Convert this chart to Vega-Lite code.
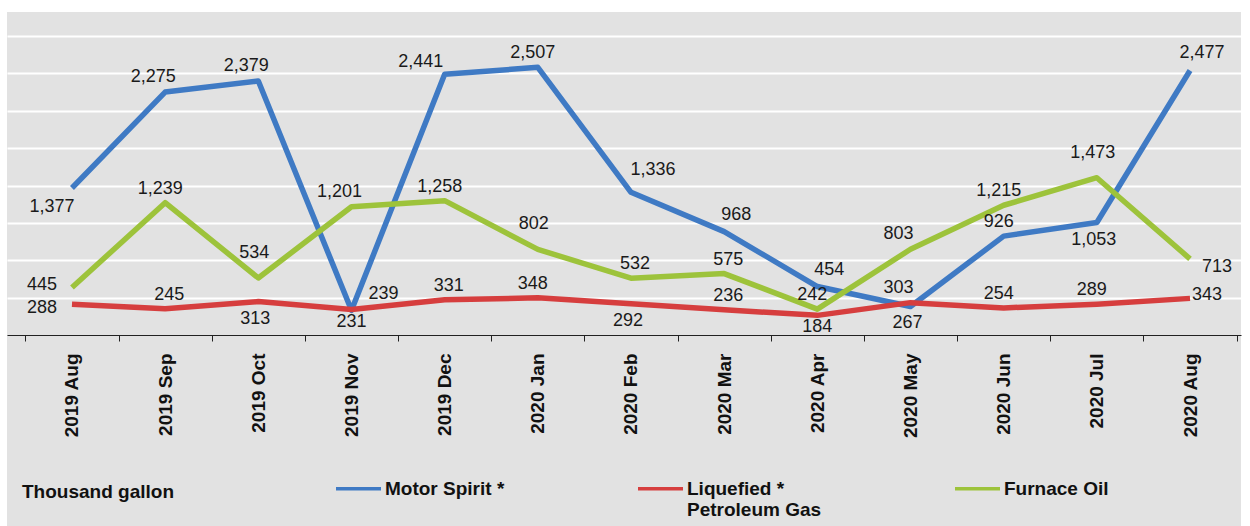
{
  "$schema": "https://vega.github.io/schema/vega-lite/v6.json",
  "autosize": {"type": "none"},
  "padding": {"left": 7, "top": 12, "right": 9, "bottom": 0},
  "width": 1234,
  "height": 514,
  "background": "#ffffff",
  "config": {
    "view": {"fill": "#e2e2e2", "stroke": null},
    "font": "Liberation Sans",
    "legend": {
      "orient": "none",
      "legendX": 15,
      "legendY": 452,
      "direction": "horizontal",
      "padding": 0,
      "titleOrient": "left",
      "titleFont": "Liberation Sans",
      "titleFontSize": 19,
      "titleFontWeight": "bold",
      "titleColor": "#111111",
      "titlePadding": 160,
      "labelFont": "Liberation Sans",
      "labelFontSize": 19,
      "labelFontWeight": "bold",
      "labelColor": "#111111",
      "labelLimit": 300,
      "labelOffset": 2,
      "labelLineHeight": 22,
      "columnPadding": 126,
      "symbolType": "stroke",
      "symbolSize": 2025,
      "symbolStrokeWidth": 3.5
    }
  },
  "data": {
    "values": [
      {"month": "2019 Aug", "series": "Motor Spirit *", "value": 1377},
      {"month": "2019 Sep", "series": "Motor Spirit *", "value": 2275},
      {"month": "2019 Oct", "series": "Motor Spirit *", "value": 2379},
      {"month": "2019 Nov", "series": "Motor Spirit *", "value": 231},
      {"month": "2019 Dec", "series": "Motor Spirit *", "value": 2441},
      {"month": "2020 Jan", "series": "Motor Spirit *", "value": 2507},
      {"month": "2020 Feb", "series": "Motor Spirit *", "value": 1336},
      {"month": "2020 Mar", "series": "Motor Spirit *", "value": 968},
      {"month": "2020 Apr", "series": "Motor Spirit *", "value": 454},
      {"month": "2020 May", "series": "Motor Spirit *", "value": 267},
      {"month": "2020 Jun", "series": "Motor Spirit *", "value": 926},
      {"month": "2020 Jul", "series": "Motor Spirit *", "value": 1053},
      {"month": "2020 Aug", "series": "Motor Spirit *", "value": 2477},
      {"month": "2019 Aug", "series": "Liquefied * Petroleum Gas", "value": 288},
      {"month": "2019 Sep", "series": "Liquefied * Petroleum Gas", "value": 245},
      {"month": "2019 Oct", "series": "Liquefied * Petroleum Gas", "value": 313},
      {"month": "2019 Nov", "series": "Liquefied * Petroleum Gas", "value": 239},
      {"month": "2019 Dec", "series": "Liquefied * Petroleum Gas", "value": 331},
      {"month": "2020 Jan", "series": "Liquefied * Petroleum Gas", "value": 348},
      {"month": "2020 Feb", "series": "Liquefied * Petroleum Gas", "value": 292},
      {"month": "2020 Mar", "series": "Liquefied * Petroleum Gas", "value": 236},
      {"month": "2020 Apr", "series": "Liquefied * Petroleum Gas", "value": 184},
      {"month": "2020 May", "series": "Liquefied * Petroleum Gas", "value": 303},
      {"month": "2020 Jun", "series": "Liquefied * Petroleum Gas", "value": 254},
      {"month": "2020 Jul", "series": "Liquefied * Petroleum Gas", "value": 289},
      {"month": "2020 Aug", "series": "Liquefied * Petroleum Gas", "value": 343},
      {"month": "2019 Aug", "series": "Furnace Oil", "value": 445},
      {"month": "2019 Sep", "series": "Furnace Oil", "value": 1239},
      {"month": "2019 Oct", "series": "Furnace Oil", "value": 534},
      {"month": "2019 Nov", "series": "Furnace Oil", "value": 1201},
      {"month": "2019 Dec", "series": "Furnace Oil", "value": 1258},
      {"month": "2020 Jan", "series": "Furnace Oil", "value": 802},
      {"month": "2020 Feb", "series": "Furnace Oil", "value": 532},
      {"month": "2020 Mar", "series": "Furnace Oil", "value": 575},
      {"month": "2020 Apr", "series": "Furnace Oil", "value": 242},
      {"month": "2020 May", "series": "Furnace Oil", "value": 803},
      {"month": "2020 Jun", "series": "Furnace Oil", "value": 1215},
      {"month": "2020 Jul", "series": "Furnace Oil", "value": 1473},
      {"month": "2020 Aug", "series": "Furnace Oil", "value": 713}
    ]
  },
  "encoding": {
    "x": {
      "field": "month",
      "type": "nominal",
      "bandPosition": 0.5,
      "sort": ["2019 Aug","2019 Sep","2019 Oct","2019 Nov","2019 Dec","2020 Jan","2020 Feb","2020 Mar","2020 Apr","2020 May","2020 Jun","2020 Jul","2020 Aug"],
      "scale": {"type": "band", "paddingInner": 0, "paddingOuter": 0.1223, "align": 0.807},
      "axis": {
        "title": null,
        "offset": -191,
        "labelAngle": 270,
        "labelFont": "Liberation Sans",
        "labelFontSize": 19,
        "labelFontWeight": "bold",
        "labelColor": "#111111",
        "labelPadding": 12,
        "tickBand": "extent",
        "tickSize": 6,
        "tickColor": "#222222",
        "domainColor": "#222222",
        "domainWidth": 1.2,
        "grid": false
      }
    },
    "y": {
      "field": "value",
      "type": "quantitative",
      "scale": {"domain": [-1788.6, 3024.8], "nice": false, "zero": false},
      "axis": {
        "title": null,
        "labels": false,
        "ticks": false,
        "domain": false,
        "grid": true,
        "gridColor": "#ffffff",
        "gridWidth": 2,
        "values": [350, 700, 1050, 1400, 1750, 2100, 2450, 2800]
      }
    }
  },
  "layer": [
    {
      "transform": [{"filter": "datum.series == 'Motor Spirit *'"}],
      "mark": {"type": "line", "strokeWidth": 5.5, "strokeJoin": "round"},
      "encoding": {
        "color": {"field": "series", "type": "nominal", "title": "Thousand gallon",
          "scale": {"domain": ["Motor Spirit *", "Liquefied * Petroleum Gas", "Furnace Oil"], "range": ["#3f7ac4", "#d63e3e", "#9dc33b"]},
          "legend": {
            "labelExpr": "datum.label == 'Liquefied * Petroleum Gas' ? ['Liquefied *', 'Petroleum Gas'] : [datum.label, '']",
            "encoding": {
              "labels": {"update": {"dy": {"value": 11}}},
              "title": {"update": {"dy": {"value": 9}}}
            }
          }}
      }
    },
    {
      "transform": [{"filter": "datum.series == 'Liquefied * Petroleum Gas'"}],
      "mark": {"type": "line", "strokeWidth": 5.5, "strokeJoin": "round"},
      "encoding": {
        "color": {"field": "series", "type": "nominal", "title": "Thousand gallon",
          "scale": {"domain": ["Motor Spirit *", "Liquefied * Petroleum Gas", "Furnace Oil"], "range": ["#3f7ac4", "#d63e3e", "#9dc33b"]}}
      }
    },
    {
      "transform": [{"filter": "datum.series == 'Furnace Oil'"}],
      "mark": {"type": "line", "strokeWidth": 5.5, "strokeJoin": "round"},
      "encoding": {
        "color": {"field": "series", "type": "nominal", "title": "Thousand gallon",
          "scale": {"domain": ["Motor Spirit *", "Liquefied * Petroleum Gas", "Furnace Oil"], "range": ["#3f7ac4", "#d63e3e", "#9dc33b"]}}
      }
    },
    {
      "transform": [{"filter": "indexof(['M:2020 Jan','M:2020 Jun','F:2019 Sep','F:2019 Dec','F:2020 Apr','F:2020 Jun','L:2020 Jan','L:2020 Jun','L:2020 Jul'], slice(datum.series,0,1) + ':' + datum.month) >= 0"}],
      "mark": {"type": "text", "dx": -5, "dy": -14, "fontSize": 18, "color": "#1a1a1a"},
      "encoding": {"text": {"field": "value", "type": "quantitative", "format": ","}}
    },
    {
      "transform": [{"filter": "indexof(['F:2020 Feb','F:2020 Mar','L:2019 Sep','L:2020 Mar','L:2019 Dec'], slice(datum.series,0,1) + ':' + datum.month) >= 0"}],
      "mark": {"type": "text", "dx": 4, "dy": -14, "fontSize": 18, "color": "#1a1a1a"},
      "encoding": {"text": {"field": "value", "type": "quantitative", "format": ","}}
    },
    {
      "transform": [{"filter": "indexof(['M:2019 Sep','M:2019 Oct','F:2019 Nov','F:2020 May','L:2020 May'], slice(datum.series,0,1) + ':' + datum.month) >= 0"}],
      "mark": {"type": "text", "dx": -12, "dy": -15, "fontSize": 18, "color": "#1a1a1a"},
      "encoding": {"text": {"field": "value", "type": "quantitative", "format": ","}}
    },
    {
      "transform": [{"filter": "indexof(['M:2019 Dec'], slice(datum.series,0,1) + ':' + datum.month) >= 0"}],
      "mark": {"type": "text", "dx": -24, "dy": -12, "fontSize": 18, "color": "#1a1a1a"},
      "encoding": {"text": {"field": "value", "type": "quantitative", "format": ","}}
    },
    {
      "transform": [{"filter": "indexof(['M:2020 Feb'], slice(datum.series,0,1) + ':' + datum.month) >= 0"}],
      "mark": {"type": "text", "dx": 22, "dy": -22, "fontSize": 18, "color": "#1a1a1a"},
      "encoding": {"text": {"field": "value", "type": "quantitative", "format": ","}}
    },
    {
      "transform": [{"filter": "indexof(['M:2020 Mar','M:2020 Apr','M:2020 Aug'], slice(datum.series,0,1) + ':' + datum.month) >= 0"}],
      "mark": {"type": "text", "dx": 12, "dy": -17, "fontSize": 18, "color": "#1a1a1a"},
      "encoding": {"text": {"field": "value", "type": "quantitative", "format": ","}}
    },
    {
      "transform": [{"filter": "indexof(['F:2019 Oct','F:2020 Jan','F:2020 Jul'], slice(datum.series,0,1) + ':' + datum.month) >= 0"}],
      "mark": {"type": "text", "dx": -4, "dy": -25, "fontSize": 18, "color": "#1a1a1a"},
      "encoding": {"text": {"field": "value", "type": "quantitative", "format": ","}}
    },
    {
      "transform": [{"filter": "indexof(['M:2020 May','M:2020 Jul','L:2020 Feb','L:2019 Oct'], slice(datum.series,0,1) + ':' + datum.month) >= 0"}],
      "mark": {"type": "text", "dx": -3, "dy": 17, "fontSize": 18, "color": "#1a1a1a"},
      "encoding": {"text": {"field": "value", "type": "quantitative", "format": ","}}
    },
    {
      "transform": [{"filter": "indexof(['L:2020 Apr','M:2019 Nov'], slice(datum.series,0,1) + ':' + datum.month) >= 0"}],
      "mark": {"type": "text", "dx": 0, "dy": 12, "fontSize": 18, "color": "#1a1a1a"},
      "encoding": {"text": {"field": "value", "type": "quantitative", "format": ","}}
    },
    {
      "transform": [{"filter": "indexof(['F:2019 Aug'], slice(datum.series,0,1) + ':' + datum.month) >= 0"}],
      "mark": {"type": "text", "dx": -30, "dy": -2, "fontSize": 18, "color": "#1a1a1a"},
      "encoding": {"text": {"field": "value", "type": "quantitative", "format": ","}}
    },
    {
      "transform": [{"filter": "indexof(['L:2019 Aug'], slice(datum.series,0,1) + ':' + datum.month) >= 0"}],
      "mark": {"type": "text", "dx": -30, "dy": 4, "fontSize": 18, "color": "#1a1a1a"},
      "encoding": {"text": {"field": "value", "type": "quantitative", "format": ","}}
    },
    {
      "transform": [{"filter": "indexof(['M:2019 Aug'], slice(datum.series,0,1) + ':' + datum.month) >= 0"}],
      "mark": {"type": "text", "dx": -20, "dy": 19, "fontSize": 18, "color": "#1a1a1a"},
      "encoding": {"text": {"field": "value", "type": "quantitative", "format": ","}}
    },
    {
      "transform": [{"filter": "indexof(['L:2019 Nov'], slice(datum.series,0,1) + ':' + datum.month) >= 0"}],
      "mark": {"type": "text", "dx": 32, "dy": -15, "fontSize": 18, "color": "#1a1a1a"},
      "encoding": {"text": {"field": "value", "type": "quantitative", "format": ","}}
    },
    {
      "transform": [{"filter": "indexof(['F:2020 Aug'], slice(datum.series,0,1) + ':' + datum.month) >= 0"}],
      "mark": {"type": "text", "dx": 27, "dy": 8, "fontSize": 18, "color": "#1a1a1a"},
      "encoding": {"text": {"field": "value", "type": "quantitative", "format": ","}}
    },
    {
      "transform": [{"filter": "indexof(['L:2020 Aug'], slice(datum.series,0,1) + ':' + datum.month) >= 0"}],
      "mark": {"type": "text", "dx": 17, "dy": -3, "fontSize": 18, "color": "#1a1a1a"},
      "encoding": {"text": {"field": "value", "type": "quantitative", "format": ","}}
    }
  ]
}
